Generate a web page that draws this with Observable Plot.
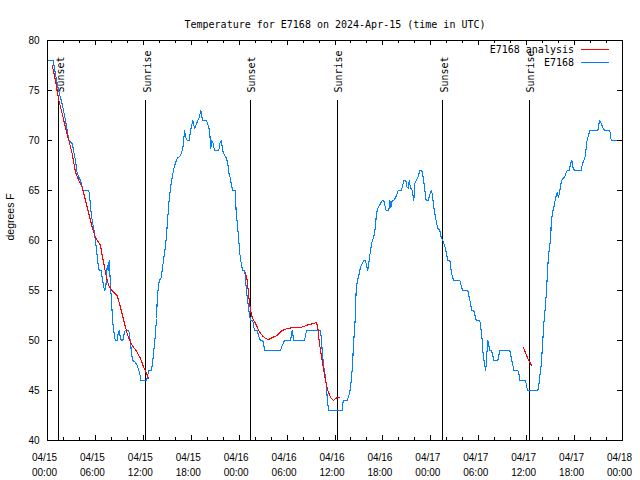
<!DOCTYPE html>
<html>
<head>
<meta charset="utf-8">
<script src="https://cdn.jsdelivr.net/npm/d3@7"></script>
<script src="https://cdn.jsdelivr.net/npm/@observablehq/plot@0.6"></script>
<style>
  html, body { margin: 0; padding: 0; background: #fff; }
  svg { display: block; }
</style>
</head>
<body>
<div id="chart"></div>
<script>
// ---- Data (hours since 2024-04-15 00:00 UTC) ----
const titleText = "Temperature for E7168 on 2024-Apr-15 (time in UTC)";
const yLabel = "degrees F";
const obsName = "E7168";
const anaName = "E7168 analysis";

const obsHours = [0.16,0.71,0.98,1.38,1.63,1.88,2.25,2.67,3.09,3.51,3.72,4.13,4.47,5.17,5.30,5.38,5.60,5.82,6.01,6.07,6.22,6.35,6.47,6.72,6.85,6.97,7.14,7.30,7.48,7.60,7.73,7.80,7.89,8.01,8.10,8.23,8.39,8.48,8.73,8.85,8.98,9.10,9.23,9.43,9.55,9.73,10.18,10.31,10.43,10.52,10.68,11.02,11.23,11.43,11.56,11.68,12.40,12.48,12.68,12.99,13.11,13.24,13.40,13.52,13.65,13.74,13.86,13.99,14.24,14.36,14.49,14.65,14.78,14.90,14.99,15.19,15.40,15.61,15.82,16.03,16.24,16.65,16.87,16.99,17.16,17.32,17.49,17.74,17.91,18.19,18.41,18.66,18.95,19.20,19.41,19.91,20.20,20.32,20.45,20.57,20.75,20.91,21.45,21.58,21.75,22.00,22.20,22.41,22.58,22.70,22.88,23.00,23.17,23.50,23.63,23.79,23.95,24.08,24.26,24.42,24.71,24.83,25.01,25.21,25.42,25.71,25.83,25.96,26.26,26.46,26.67,26.96,27.09,27.21,29.18,29.39,29.68,30.43,30.64,30.84,32.18,32.43,34.18,34.31,34.44,34.60,34.81,34.94,35.06,35.22,36.90,37.03,37.53,37.65,37.82,37.94,38.07,38.19,38.32,38.44,38.53,38.66,38.78,38.91,39.03,39.19,39.41,39.61,39.82,39.95,40.11,40.23,40.36,40.48,40.61,40.78,40.95,41.04,41.20,41.36,41.54,41.70,41.91,42.11,42.24,42.41,42.74,42.87,42.99,43.16,43.36,43.58,43.79,43.92,44.29,44.42,44.62,44.87,44.99,45.17,45.29,45.45,45.67,45.87,45.99,46.17,46.37,46.62,46.87,47.05,47.21,47.42,47.67,47.87,48.08,48.21,48.33,48.50,48.71,48.87,49.12,49.30,49.50,49.80,49.96,50.13,50.38,50.55,50.71,50.88,51.63,51.80,51.97,52.63,52.81,52.97,53.13,53.38,53.56,53.68,54.13,54.26,54.43,54.56,54.72,54.88,55.06,55.13,55.26,55.38,55.60,55.76,55.89,56.39,56.51,56.64,57.89,58.06,58.23,58.39,58.89,59.07,59.17,59.86,59.98,60.11,61.40,61.52,61.65,61.82,61.98,62.15,62.32,62.49,62.61,62.74,62.90,63.03,63.07,63.24,63.40,63.61,63.82,63.99,64.15,64.32,64.49,64.74,64.90,65.08,65.33,65.49,65.65,65.83,65.99,66.83,66.99,67.16,67.37,67.49,67.66,67.91,68.91,69.12,69.33,69.53,69.75,70.41,70.59,71.97];
const obsTemps = [78,78,76.7,75,74.3,73.5,72,70,69.7,68,66.7,66,65,65,64.3,63.3,62,61,60,59.5,58.5,57.5,57,57,56.3,55.7,55,55.3,57.5,57,58,57,55.2,54.2,52.7,51.3,50.5,50,50,50.7,51,50.4,50,50,50.5,51,51,50.3,49.5,48.7,48,47.8,47.5,47,46.7,46,46,46.3,47,47,47.5,48.4,49.7,50.7,52.2,54,55.2,56,56.3,57,57.8,58.7,59.5,60.5,61.5,63.7,65.3,66.3,67.2,67.8,68.2,68.5,69,69.5,71,70.3,70,70,71,72,71.2,71.7,72.2,73,72,72,71.3,70.7,69.2,70,69.7,69,69,69.7,70,68.8,68.5,68.2,67.7,66.8,66.3,65.7,65,65,62.8,61.5,60,58.7,57.7,57,57,55.7,54.3,53,52,52,51.3,51,51,50.4,50,50,49.5,49,49,49.5,50,50,51,50,50,51,51,50,48.5,47.3,46.3,45.3,43.8,43,43,44,44,44.3,44.7,45.3,46.3,47.5,49.7,51,52.2,55.2,55.8,56.3,56.7,57.3,57.7,58,58,57.5,57,57.7,58.5,59.2,59.8,60.2,60.7,61.3,62.7,63.2,63.5,63.7,64,64,63.5,63,63,64,63.3,64,64,64.3,64.7,65,65,65.3,66,66,65.4,65.2,66,65.3,65,64,65.7,66,66.3,67,67,66.3,65.3,64,64,64.6,65,64.5,63.5,62.7,61.8,61.2,61,60.3,60,59.3,58.7,58,58,57,56.3,56,56,55.5,55,55,54.3,53.7,53,53,52.4,52,52,51.3,50,48.5,47.7,47,49.2,50,49.5,49,49,48.5,48,48,48.5,49,49,48.3,47.7,47,47,46.5,46,46,45.5,45,45,45.5,46.5,47.5,49.5,51.7,53.2,55,57,58.5,59.5,60.7,61.7,62.8,63.3,64.2,64.8,64.3,65,65.8,66.2,66.3,66.7,67,67,67.7,68,67.2,67,67,67.7,68,68.5,69.7,70.3,71,71,72,71.7,71.3,71,71,70,70];

const anaHours = [0.59,1.00,1.42,1.84,2.25,2.67,3.09,3.51,3.92,4.35,4.76,5.17,5.60,6.01,6.42,6.64,6.85,7.05,7.26,7.48,7.68,7.89,8.30,8.73,9.14,9.55,9.98,10.39,10.81,11.23,11.65,12.06,12.40,12.68,
  24.79,25.01,25.21,25.42,25.63,26.05,26.46,26.88,27.30,27.71,28.14,28.76,29.39,30.02,30.84,31.68,32.09,32.72,33.35,33.68,33.85,33.97,34.18,34.40,34.60,34.81,35.10,35.44,35.78,36.06,36.35,36.60,
  59.57,59.86,60.14,60.48,60.64];
const anaTemps = [77.5,76,74,72.7,71.3,70,68.7,66.8,66,65.3,64,62.7,61.3,60.3,59.8,59.5,58.5,57.7,56.8,56,55.5,55.2,54.8,54.5,53.3,52,50.7,49.8,49.3,48.8,48.2,47.3,46.7,46.2,
  56.7,56,54.3,53,52.3,51.7,51,50.5,50.2,50.1,50.3,50.5,51,51.2,51.3,51.3,51.4,51.6,51.7,51.8,51.3,50.3,49,48,47,46,45,44.3,44,44.2,44.3,44.3,
  49.3,48.8,48.2,47.7,47.5];
const anaRun = [1,1,1,1,1,1,1,1,1,1,1,1,1,1,1,1,1,1,1,1,1,1,1,1,1,1,1,1,1,1,1,1,1,1,
  2,2,2,2,2,2,2,2,2,2,2,2,2,2,2,2,2,2,2,2,2,2,2,2,2,2,2,2,2,2,2,2,
  3,3,3,3,3];

const sunHours = [1.42, 12.31, 25.42, 36.35, 49.50, 60.32];
const sunLabels = ["Sunset", "Sunrise", "Sunset", "Sunrise", "Sunset", "Sunrise"];

const yTicks = [40, 45, 50, 55, 60, 65, 70, 75, 80];
const xMajorHours = [0, 6, 12, 18, 24, 30, 36, 42, 48, 54, 60, 66, 72];
const xMinorHours = [2, 4, 8, 10, 14, 16, 20, 22, 26, 28, 32, 34, 38, 40, 44, 46, 50, 52, 56, 58, 62, 64, 68, 70];

// ---- Build ----
const t0 = Date.UTC(2024, 3, 15);
const toDate = h => new Date(t0 + h * 3600e3);
const obs = obsHours.map((h, i) => ({t: toDate(h), v: obsTemps[i]}));
const ana = anaHours.map((h, i) => ({t: toDate(h), v: anaTemps[i], run: anaRun[i]}));
const sun = sunHours.map((h, i) => ({t: toDate(h), label: sunLabels[i]}));
const xMajor = xMajorHours.map(toDate);
const xMinor = xMinorHours.map(toDate);

const RED = "#ff0000", BLUE = "#0080ff";
const W = 640, H = 480, mL = 47, mR = 18, mT = 40, mB = 40;
const plotW = W - mL - mR, plotH = H - mT - mB;
const mono = "'DejaVu Sans Mono', monospace";
const fmt = d3.utcFormat("%m/%d\n%H:%M");

const chart = Plot.plot({
  width: W, height: H,
  marginLeft: mL, marginRight: mR, marginTop: mT, marginBottom: mB,
  style: {fontFamily: "'Liberation Sans', Arial, sans-serif", fontSize: "10px", background: "#fff", color: "#000"},
  x: {type: "utc", domain: [toDate(0), toDate(72)]},
  y: {domain: [40, 80]},
  marks: [
    // sunrise/sunset markers
    Plot.ruleX(sun, {x: "t", y1: 40, y2: 40 + 0.85 * 40, stroke: "#000", strokeWidth: 1, shapeRendering: "crispEdges"}),
    Plot.text(sun, {x: "t", y: 40 + 0.87 * 40, text: "label", rotate: -90, textAnchor: "start",
      dx: 1.5, fontFamily: mono, fontSize: 10, fill: "#000"}),
    // data
    Plot.line(obs, {x: "t", y: "v", stroke: BLUE, strokeWidth: 1.1, shapeRendering: "crispEdges"}),
    Plot.line(ana, {x: "t", y: "v", z: "run", stroke: RED, strokeWidth: 1.1, shapeRendering: "crispEdges"}),
    // ticks (inward, all four sides)
    Plot.ruleX(xMajor, {insetTop: plotH - 5, stroke: "#000", shapeRendering: "crispEdges"}),
    Plot.ruleX(xMajor, {insetBottom: plotH - 5, stroke: "#000", shapeRendering: "crispEdges"}),
    Plot.ruleX(xMinor, {insetTop: plotH - 3, stroke: "#000", shapeRendering: "crispEdges"}),
    Plot.ruleX(xMinor, {insetBottom: plotH - 3, stroke: "#000", shapeRendering: "crispEdges"}),
    Plot.ruleY(yTicks, {insetRight: plotW - 5, stroke: "#000", shapeRendering: "crispEdges"}),
    Plot.ruleY(yTicks, {insetLeft: plotW - 5, stroke: "#000", shapeRendering: "crispEdges"}),
    Plot.frame({stroke: "#000", strokeWidth: 1, shapeRendering: "crispEdges"}),
    // axis labels
    Plot.axisX(xMajor, {tickSize: 0, tickPadding: 10, tickFormat: fmt, lineHeight: 1.5, dx: -3, label: null, fill: "#000"}),
    Plot.axisY(yTicks, {tickSize: 0, tickPadding: 8, label: null, fill: "#000"}),
    // y label and title
    Plot.text([yLabel], {frameAnchor: "left", dx: -37, rotate: -90, fontSize: 10.5, fill: "#000"}),
    Plot.text([titleText], {frameAnchor: "top", dy: -20, fontFamily: mono, fontSize: 10, fill: "#000"})
  ]
});

// legend (top-right, inside the frame)
const svg = d3.select(chart);
const legend = [{label: anaName, color: RED}, {label: obsName, color: BLUE}];
const g = svg.append("g").attr("font-family", mono).attr("font-size", 10);
legend.forEach((d, i) => {
  const y = mT + 9.5 + i * 13.3;
  g.append("text").attr("x", W - mR - 48).attr("y", y).attr("dy", "0.35em")
    .attr("text-anchor", "end").attr("fill", "#000").text(d.label);
  g.append("line").attr("x1", W - mR - 41).attr("x2", W - mR - 13)
    .attr("y1", y).attr("y2", y).attr("stroke", d.color).attr("stroke-width", 1)
    .attr("shape-rendering", "crispEdges");
});

document.getElementById("chart").appendChild(chart);
</script>
</body>
</html>
